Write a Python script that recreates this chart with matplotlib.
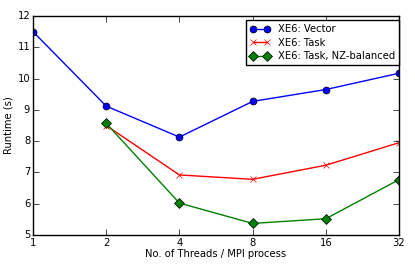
import matplotlib
matplotlib.use('Agg')
import matplotlib.pyplot as plt

plt.style.use('classic')

threads = [1, 2, 4, 8, 16, 32]
vector = [11.5, 9.12, 8.13, 9.27, 9.65, 10.17]
task_threads = [2, 4, 8, 16, 32]
task = [8.5, 6.92, 6.78, 7.23, 7.95]
task_nz = [8.57, 6.02, 5.37, 5.52, 6.77]

fig = plt.figure(figsize=(4.15, 2.68), dpi=100)
ax = fig.add_axes([33 / 415, 33 / 268, 366 / 415, 219 / 268])

ax.plot(threads, vector, 'b-o', label='XE6: Vector', markersize=5)
ax.plot(task_threads, task, 'r-x', label='XE6: Task', markersize=5)
ax.plot(task_threads, task_nz, 'g-D', label='XE6: Task, NZ-balanced', markersize=5)

ax.set_xscale('log', base=2)
ax.set_xlim(1, 32)
ax.set_ylim(5, 12)
ax.set_xticks(threads)
ax.set_xticklabels([str(t) for t in threads])
ax.minorticks_off()
ax.tick_params(labelsize=7.2, pad=2)
ax.set_xlabel('No. of Threads / MPI process', fontsize=7.2, labelpad=1)
ax.set_ylabel('Runtime (s)', fontsize=7.2, labelpad=3)
ax.legend(loc='upper right', fontsize=7.2, numpoints=2,
          bbox_to_anchor=(1.0, 0.98), borderaxespad=0.0,
          handlelength=2.0, labelspacing=0.35, handletextpad=0.8)

fig.savefig('out.png', dpi=100)
